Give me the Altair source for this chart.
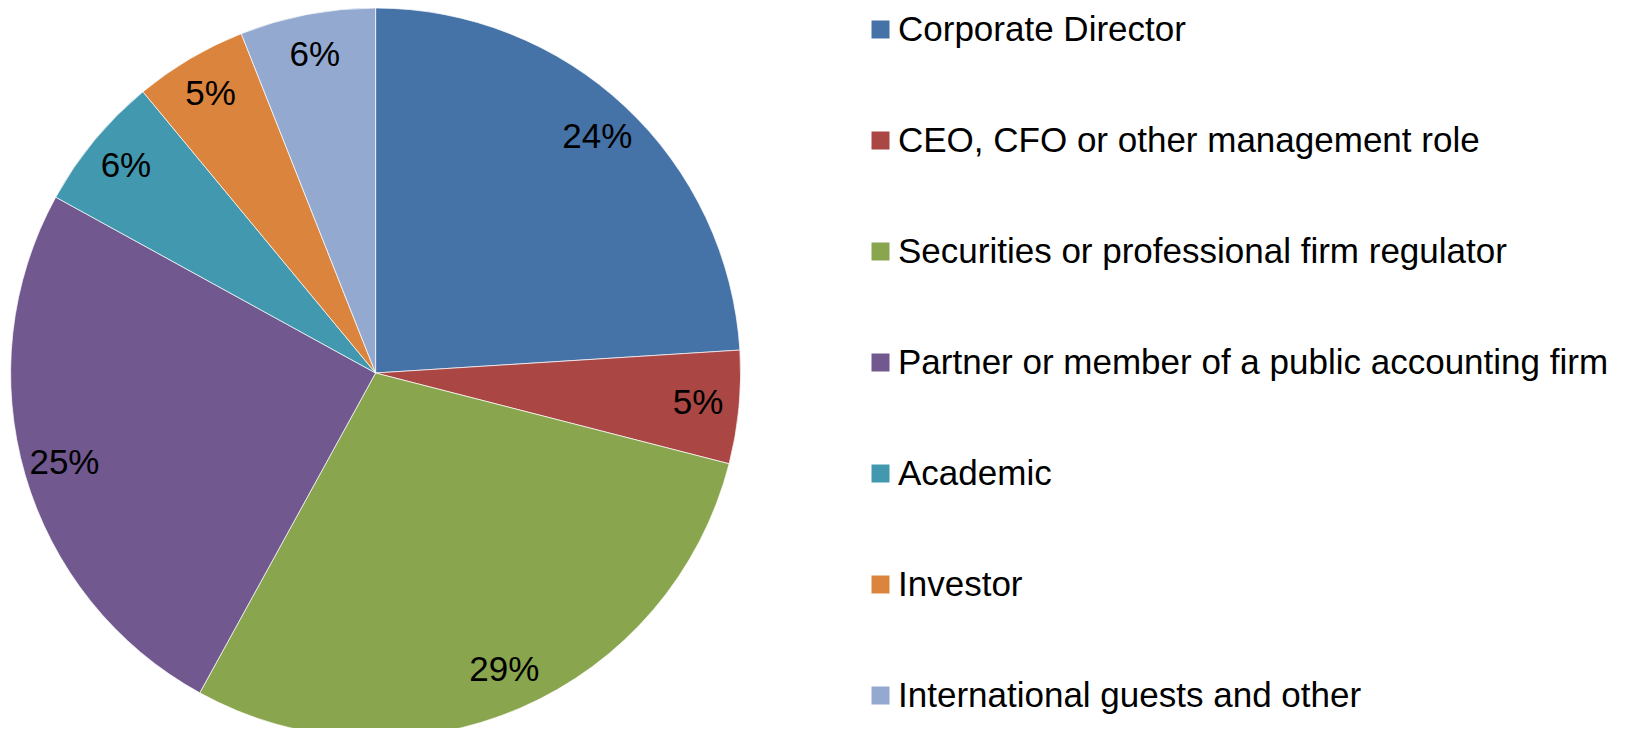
import altair as alt
import pandas as pd

categories = [
    "Corporate Director",
    "CEO, CFO or other management role",
    "Securities or professional firm regulator",
    "Partner or member of a public accounting firm",
    "Academic",
    "Investor",
    "International guests and other",
]
values = [24, 5, 29, 25, 6, 5, 6]
labels = ["24%", "5%", "29%", "25%", "6%", "5%", "6%"]
colors = ["#4572A7", "#AA4643", "#89A54E", "#71588F", "#4198AF", "#DB843D", "#93A9CF"]

df = pd.DataFrame({
    "category": categories,
    "value": values,
    "label": labels,
    "order": list(range(len(categories))),
})

cx, cy, R = 367.6, 365, 365

base = alt.Chart(df).encode(
    theta=alt.Theta("value:Q", stack=True),
    order=alt.Order("order:Q"),
)

pie = base.mark_arc(outerRadius=R, stroke="#ffffff", strokeWidth=0.7).encode(
    x=alt.value(cx),
    y=alt.value(cy),
    color=alt.Color(
        "category:N",
        scale=alt.Scale(domain=categories, range=colors),
        sort=categories,
        legend=alt.Legend(
            title=None,
            orient="none",
            legendX=855,
            legendY=4,
            symbolType="square",
            symbolSize=324,
            symbolStrokeWidth=0,
            symbolOpacity=1,
            labelFont="Liberation Sans",
            labelFontSize=35,
            labelColor="#000000",
            labelOffset=0,
            rowPadding=75,
            labelLimit=800,
            padding=0,
        ),
    ),
)

text = base.mark_text(
    radius=324,
    font="Liberation Sans",
    fontSize=35,
    color="#000000",
    align="center",
    baseline="middle",
).encode(
    x=alt.value(cx),
    y=alt.value(cy),
    text="label:N",
)

chart = alt.layer(pie, text).properties(
    width=1611,
    height=720,
    autosize=alt.AutoSizeParams(type="none"),
    padding=0,
).configure_view(stroke=None)

chart.save("out.html", embed_options={"renderer": "svg", "actions": False})
